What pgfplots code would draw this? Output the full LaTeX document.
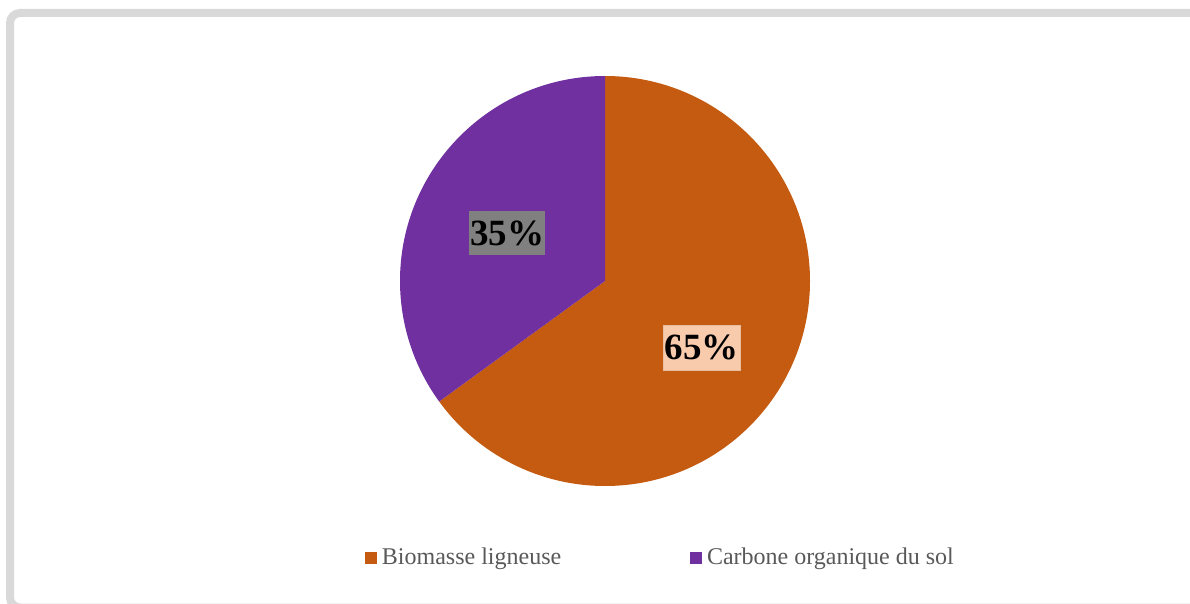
\documentclass[border=0pt]{standalone}
\usepackage{pgfplots}
\pgfplotsset{compat=1.18}
\usepackage{pgfplotstable}
\usepackage{fontspec}
\setmainfont{Liberation Serif}
\definecolor{bio}{HTML}{C55A11}
\definecolor{carb}{HTML}{7030A0}
\definecolor{peach}{HTML}{F8CBAD}
\definecolor{lblgray}{HTML}{808080}
\definecolor{txtgray}{HTML}{595959}
\definecolor{framegray}{HTML}{D9D9D9}
\pgfplotstableread{
label value
Biomasse 65
Carbone 35
}\piedata
\pgfplotstablegetelem{0}{value}\of\piedata \let\va\pgfplotsretval
\pgfplotstablegetelem{1}{value}\of\piedata \let\vb\pgfplotsretval
\begin{document}
\begin{tikzpicture}
\begin{scope}[x=0.5pt,y=-0.5pt]
\path[use as bounding box] (0,0) rectangle (1190,604);
\clip (0,0) rectangle (1190,604);
\draw[framegray, line width=4pt, rounded corners=5pt] (10,13) rectangle (1210,607.5);
\end{scope}
\begin{axis}[at={(302.5pt,-140.5pt)}, anchor=center,
  width=205pt, height=205pt, scale only axis, hide axis,
  xmin=-1, xmax=1, ymin=-1, ymax=1, clip=false,
  legend columns=2,
  legend style={at={(axis cs:-1.172,-1.351)}, anchor=west, draw=none, fill=none,
    inner sep=0pt, text=txtgray, font=\fontsize{12}{14}\selectfont,
    nodes={inner ysep=1.5pt, inner xsep=2.5pt},
    /tikz/every even column/.append style={column sep=62pt}},
  legend cell align=left]
\addlegendimage{legend image code/.code={\fill[bio] (0pt,-2.75pt) rectangle (5.5pt,2.75pt);}}
\addlegendentry{Biomasse ligneuse}
\addlegendimage{legend image code/.code={\fill[carb] (0pt,-2.75pt) rectangle (5.5pt,2.75pt);}}
\addlegendentry{Carbone organique du sol}
\fill[bio] (axis cs:0,0) -- (axis cs:0,1) arc[start angle=90, delta angle=-3.6*\va, radius=102.5pt] -- cycle;
\fill[carb] (axis cs:0,0) -- (axis cs:0,1) arc[start angle=90, delta angle=3.6*\vb, radius=102.5pt] -- cycle;
\node[fill=peach, draw=bio!40, line width=0.3pt, minimum width=38.5pt, minimum height=22.5pt, inner sep=0pt,
  font=\bfseries\fontsize{18.5}{18.5}\selectfont] at (axis cs:0.471,-0.324) {\va\%};
\node[fill=lblgray, minimum width=38pt, minimum height=22pt, inner sep=0pt,
  font=\bfseries\fontsize{18.5}{18.5}\selectfont] at (axis cs:-0.478,0.234) {\vb\%};
\end{axis}
\end{tikzpicture}
\end{document}
